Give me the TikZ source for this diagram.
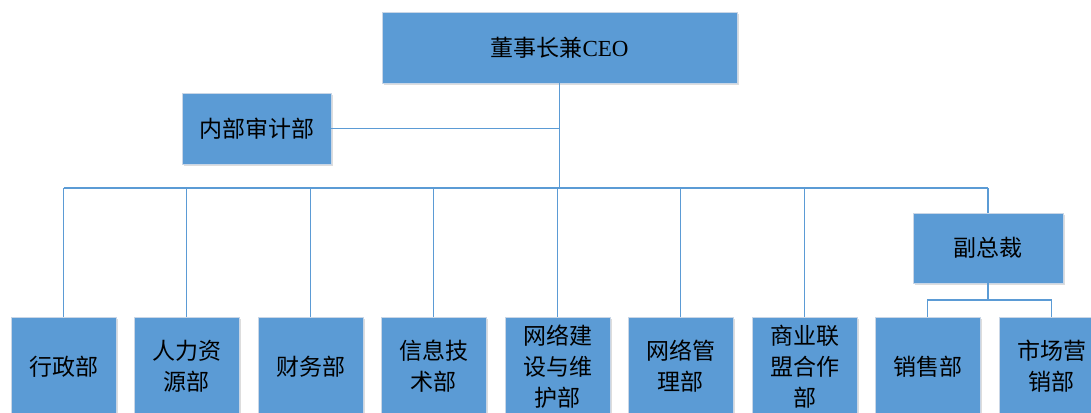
\documentclass[tikz,border=0pt]{standalone}
\usepackage{fontspec}
\setmainfont{Liberation Serif}
\newfontfamily\cjk{Noto Sans CJK SC}
\usetikzlibrary{shadows}
\definecolor{boxblue}{HTML}{5B9BD5}
\definecolor{boxedge}{HTML}{C9D6E6}
\definecolor{linkblue}{HTML}{5B9BD5}
\tikzset{
  orgbox/.style={rectangle, fill=boxblue, draw=boxedge, line width=0.8pt,
    inner sep=0pt, align=center, text=black,
    font=\cjk\fontsize{23}{31}\selectfont,
    drop shadow={shadow xshift=1.5pt, shadow yshift=-2pt, fill=black!22, opacity=0.6}},
  link/.style={draw=linkblue, line width=1.8pt}
}
\begin{document}
\begin{tikzpicture}[x=1pt,y=-1pt]
\useasboundingbox (0,0) rectangle (1091,412);
\clip (0,0) rectangle (1091,412);
% top boxes
\node[orgbox, minimum width=355pt, minimum height=71pt] (ceo) at (559.5,47.5) {董事长兼{\rmfamily CEO}};
\node[orgbox, minimum width=149pt, minimum height=71pt] (audit) at (256.5,128.5) {内部审计部};
\node[orgbox, minimum width=150pt, minimum height=70pt] (vp) at (988,248) {副总裁};
% bottom boxes
\foreach \n/\x/\t in {b1/63.5/行政部, b2/186.5/人力资\\源部, b3/310.5/财务部, b4/433.5/信息技\\术部,
  b5/557.5/网络建\\设与维\\护部, b6/680.5/网络管\\理部, b7/804.5/商业联\\盟合作\\部, b8/927.5/销售部, b9/1051.5/市场营\\销部}
  {\node[orgbox, minimum width=105pt, minimum height=99pt] (\n) at (\x,366.5) {\t};}
% connectors
\coordinate (bus) at (559.5,188);
\coordinate (vpbus) at (988,300);
\draw[link] (ceo.south) -- (bus);
\draw[link] (audit.east) -- (audit.east -| ceo.south);
\draw[link] (b1.north |- bus) -- (vp.north |- bus);
\foreach \n in {b1,b2,b3,b4,b5,b6,b7}
  {\draw[link] (\n.north) -- (\n.north |- bus);}
\draw[link] (vp.north) -- (vp.north |- bus);
\draw[link] (vp.south) -- (vpbus);
\draw[link] (b8.north) -- (b8.north |- vpbus) -- (b9.north |- vpbus) -- (b9.north);
\end{tikzpicture}
\end{document}
